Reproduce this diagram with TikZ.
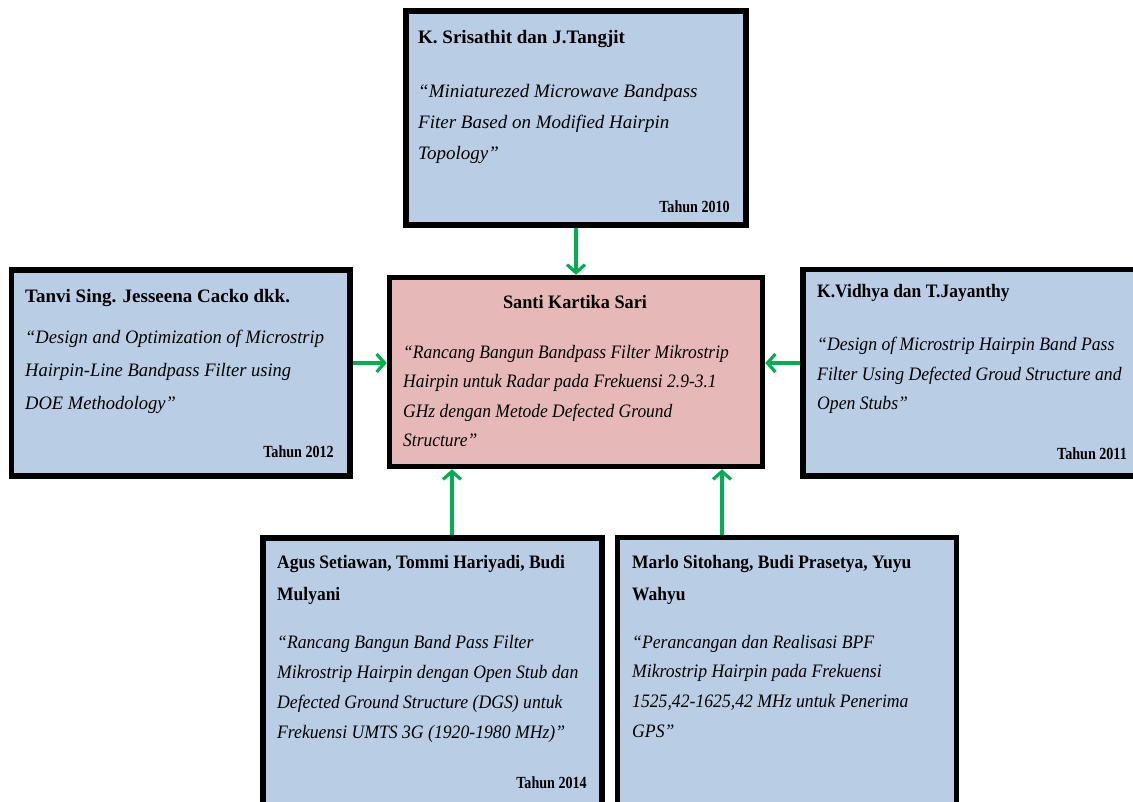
\documentclass[tikz,border=0pt]{standalone}
\usepackage{fontspec}
\usepackage{graphicx}
\setmainfont{Liberation Serif}
\usetikzlibrary{arrows.meta}
\definecolor{boxblue}{HTML}{B9CDE5}
\definecolor{boxpink}{HTML}{E6B9B8}
\definecolor{arrgreen}{HTML}{00B050}
\newcommand\nmline[2]{\scalebox{#1}[1]{\bfseries #2}}
\newcommand\itline[2]{\scalebox{#1}[1]{\itshape #2}}
\newcommand\yearline[1]{\scalebox{0.83}[1]{\fontsize{17}{20}\selectfont\bfseries #1}}
\begin{document}
\begin{tikzpicture}[x=1pt,y=-1pt,
  box/.style={draw=black, line width=5.5pt, inner sep=0pt},
  txt/.style={anchor=base west, inner sep=0pt, font=\fontsize{19}{23}\selectfont},
  yr/.style={anchor=base east, inner sep=0pt},
  arr/.style={draw=arrgreen, line width=3.2pt, -{Straight Barb[length=8pt,width=18pt]}}]
\useasboundingbox (0,0) rectangle (1133,801);
\clip (0,0) rectangle (1133,801);

% boxes
\node[box, fill=boxblue, minimum width=340pt, minimum height=214pt] (top) at (576,118) {};
\node[box, fill=boxblue, minimum width=338.5pt, minimum height=206pt] (left) at (180.75,373) {};
\node[box, fill=boxpink, minimum width=373pt, minimum height=189pt] (center) at (576,372) {};
\node[box, fill=boxblue, minimum width=342pt, minimum height=206.5pt] (right) at (974,372.75) {};
\node[box, fill=boxblue, minimum width=339pt, minimum height=292pt] (bl) at (432.5,684) {};
\node[box, fill=boxblue, minimum width=339pt, minimum height=292.5pt] (br) at (787,683.75) {};

% top box text
\node[txt] (top-n) at (418,43) {\nmline{1}{K. Srisathit dan J.Tangjit}};
\node[txt] (top-l1) at (418,97) {\itline{1}{“Miniaturezed Microwave Bandpass}};
\node[txt] (top-l2) at (418,128) {\itline{1}{Fiter Based on Modified Hairpin}};
\node[txt] (top-l3) at (418,159) {\itline{1}{Topology”}};
\node[yr] (top-y) at (730,212) {\yearline{Tahun 2010}};

% left box text
\node[txt] (left-n) at (25,302) {\nmline{1}{Tanvi Sing. Jesseena Cacko dkk.}};
\node[txt] (left-l1) at (25,343) {\itline{0.975}{“Design and Optimization of Microstrip}};
\node[txt] (left-l2) at (25,376) {\itline{0.975}{Hairpin-Line Bandpass Filter using}};
\node[txt] (left-l3) at (25,409) {\itline{0.975}{DOE Methodology”}};
\node[yr] (left-y) at (334,457) {\yearline{Tahun 2012}};

% center box text
\node[txt, anchor=base] (center-n) at (575,308) {\nmline{0.96}{Santi Kartika Sari}};
\node[txt] (center-l1) at (403,358) {\itline{0.92}{“Rancang Bangun Bandpass Filter Mikrostrip}};
\node[txt] (center-l2) at (403,387.5) {\itline{0.92}{Hairpin untuk Radar pada Frekuensi 2.9-3.1}};
\node[txt] (center-l3) at (403,417) {\itline{0.92}{GHz dengan Metode Defected Ground}};
\node[txt] (center-l4) at (403,446) {\itline{0.92}{Structure”}};

% right box text
\node[txt] (right-n) at (817,297) {\nmline{0.92}{K.Vidhya dan T.Jayanthy}};
\node[txt] (right-l1) at (817,350) {\itline{0.93}{“Design of Microstrip Hairpin Band Pass}};
\node[txt] (right-l2) at (817,380) {\itline{0.93}{Filter Using Defected Groud Structure and}};
\node[txt] (right-l3) at (817,409) {\itline{0.93}{Open Stubs”}};
\node[yr] (right-y) at (1127,459) {\yearline{Tahun 2011}};

% bottom-left box text
\node[txt] (bl-n1) at (277,568) {\nmline{0.92}{Agus Setiawan, Tommi Hariyadi, Budi}};
\node[txt] (bl-n2) at (277,600) {\nmline{0.92}{Mulyani}};
\node[txt] (bl-l1) at (277,648) {\itline{0.93}{“Rancang Bangun Band Pass Filter}};
\node[txt] (bl-l2) at (277,678) {\itline{0.93}{Mikrostrip Hairpin dengan Open Stub dan}};
\node[txt] (bl-l3) at (277,708) {\itline{0.93}{Defected Ground Structure (DGS) untuk}};
\node[txt] (bl-l4) at (277,738) {\itline{0.93}{Frekuensi UMTS 3G (1920-1980 MHz)”}};
\node[yr] (bl-y) at (587,788) {\yearline{Tahun 2014}};

% bottom-right box text
\node[txt] (br-n1) at (632,568) {\nmline{0.92}{Marlo Sitohang, Budi Prasetya, Yuyu}};
\node[txt] (br-n2) at (632,600) {\nmline{0.92}{Wahyu}};
\node[txt] (br-l1) at (632,648) {\itline{0.93}{“Perancangan dan Realisasi BPF}};
\node[txt] (br-l2) at (632,677) {\itline{0.93}{Mikrostrip Hairpin pada Frekuensi}};
\node[txt] (br-l3) at (632,707) {\itline{0.93}{1525,42-1625,42 MHz untuk Penerima}};
\node[txt] (br-l4) at (632,737) {\itline{0.93}{GPS”}};

% connectors
\coordinate (ylev) at (0,363);
\coordinate (xb1) at (452,0);
\coordinate (xb2) at (722,0);
\draw[arr] (top) -- (center);
\draw[arr] (ylev -| left.east) -- (ylev -| center.west);
\draw[arr] (ylev -| right.west) -- (ylev -| center.east);
\draw[arr] (xb1 |- bl.north) -- (xb1 |- center.south);
\draw[arr] (xb2 |- br.north) -- (xb2 |- center.south);
\end{tikzpicture}
\end{document}
